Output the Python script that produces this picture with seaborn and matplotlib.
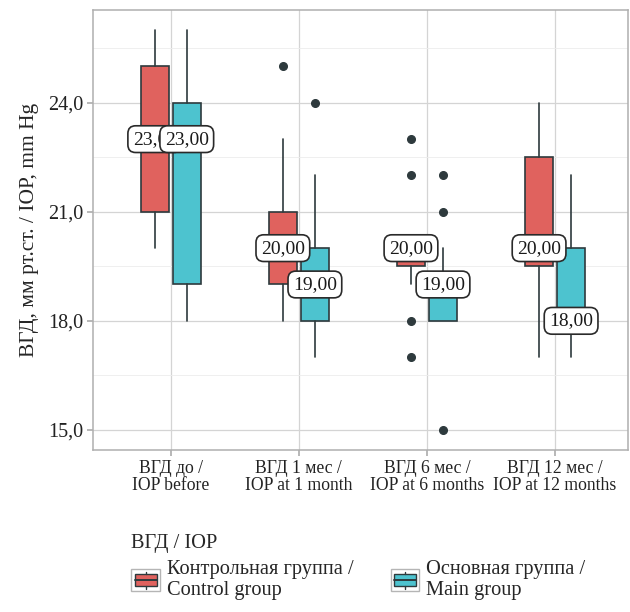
import matplotlib
matplotlib.use("Agg")
import matplotlib.pyplot as plt
from matplotlib.patches import Rectangle
from matplotlib.lines import Line2D
from matplotlib.legend_handler import HandlerBase
from matplotlib.ticker import FixedLocator
import seaborn as sns

# time points (x axis)
categories = ["ВГД до /\nIOP before", "ВГД 1 мес /\nIOP at 1 month",
              "ВГД 6 мес /\nIOP at 6 months", "ВГД 12 мес /\nIOP at 12 months"]
groups = ["Контрольная группа /\nControl group", "Основная группа /\nMain group"]

# box statistics: lower whisker, Q1, median, Q3, upper whisker
control_whislo = [20, 18, 19, 17]
control_q1 = [21, 19, 19.5, 19.5]
control_med = [23, 20, 20, 20]
control_q3 = [25, 21, 20, 22.5]
control_whishi = [26, 23, 20, 24]
control_fliers = [[], [25], [23, 22, 18, 17], []]

main_whislo = [18, 17, 18, 17]
main_q1 = [19, 18, 18, 18]
main_med = [23, 19, 19, 18]
main_q3 = [24, 20, 19, 20]
main_whishi = [26, 22, 20, 22]
main_fliers = [[], [24], [22, 21, 15], []]

y_ticks = [15, 18, 21, 24]

colors = ["#E0625E", "#4DC3CF"]
dark = "#2E3A3D"

sns.set_theme(style="whitegrid")
plt.rcParams["font.family"] = ["Liberation Serif", "DejaVu Serif"]

fig = plt.figure(figsize=(6.3, 6.12), dpi=100)
ax = fig.add_axes([0.147, 0.265, 0.850, 0.719])


def make_stats(wl, q1, med, q3, wh, fl):
    return [dict(whislo=a, q1=b, med=c, q3=d, whishi=e, fliers=f)
            for a, b, c, d, e, f in zip(wl, q1, med, q3, wh, fl)]


series = [
    make_stats(control_whislo, control_q1, control_med, control_q3, control_whishi, control_fliers),
    make_stats(main_whislo, main_q1, main_med, main_q3, main_whishi, main_fliers),
]
offsets = [-0.125, 0.125]

for k, stats in enumerate(series):
    pos = [i + offsets[k] for i in range(len(categories))]
    ax.bxp(stats, positions=pos, widths=0.22, patch_artist=True, showcaps=False,
           boxprops=dict(facecolor=colors[k], edgecolor=dark, linewidth=1.2),
           whiskerprops=dict(color=dark, linewidth=1.2),
           medianprops=dict(color=dark, linewidth=1.6),
           flierprops=dict(marker="o", markerfacecolor=dark, markeredgecolor=dark,
                           markersize=5.5),
           manage_ticks=False, zorder=3)

# median labels
for k, stats in enumerate(series):
    for i, s in enumerate(stats):
        ax.text(i + offsets[k], s["med"], f"{s['med']:.2f}".replace(".", ","),
                ha="center", va="center", fontsize=14, color="#1a1a1a", zorder=6 + k,
                bbox=dict(boxstyle="round,pad=0.25,rounding_size=0.4", fc="white",
                          ec="#2a2a2a", lw=1.2))

ax.set_xlim(-0.61, 3.57)
ax.set_ylim(14.45, 26.56)
ax.set_xticks(range(len(categories)))
ax.set_xticklabels(categories, fontsize=12.7, linespacing=1.0)
ax.set_yticks(y_ticks)
ax.set_yticklabels([f"{v:.1f}".replace(".", ",") for v in y_ticks], fontsize=14.5)
ax.yaxis.set_minor_locator(FixedLocator([16.5, 19.5, 22.5, 25.5]))
ax.set_ylabel("ВГД, мм рт.ст. / IOP, mm Hg", fontsize=15.5, labelpad=6)
ax.set_xlabel("")

ax.grid(which="major", color="#D4D4D4", linewidth=0.9)
ax.grid(which="minor", axis="y", color="#EDEDED", linewidth=0.6)
ax.set_axisbelow(True)
for sp in ax.spines.values():
    sp.set_color("#AFAFAF")
    sp.set_linewidth(1.1)
ax.tick_params(axis="both", which="major", length=4, color="#AFAFAF", colors="#222222",
               left=True, bottom=True, pad=3)
ax.tick_params(axis="y", which="minor", length=0)


class BoxKey(HandlerBase):
    # ggplot-like boxplot legend key
    def __init__(self, fill):
        super().__init__()
        self.fill = fill

    def create_artists(self, legend, orig_handle, xdescent, ydescent, width, height,
                       fontsize, trans):
        x0, y0 = -xdescent, -ydescent
        outer = Rectangle((x0, y0), width, height, fc="white", ec="#B5B5B5", lw=1.0,
                          transform=trans)
        ix, iy = width * 0.12, height * 0.22
        inner = Rectangle((x0 + ix, y0 + iy), width - 2 * ix, height - 2 * iy,
                          fc=self.fill, ec=dark, lw=1.0, transform=trans)
        med = Line2D([x0 + ix, x0 + width - ix], [y0 + height / 2] * 2, color=dark,
                     lw=1.4, transform=trans)
        w1 = Line2D([x0 + width / 2] * 2, [y0 + 2, y0 + iy], color=dark, lw=1.0,
                    transform=trans)
        w2 = Line2D([x0 + width / 2] * 2, [y0 + height - iy, y0 + height - 2], color=dark,
                    lw=1.0, transform=trans)
        return [outer, inner, med, w1, w2]


handles = [Rectangle((0, 0), 1, 1, fc=c) for c in colors]
fig.legend(handles, groups, loc="upper left", bbox_to_anchor=(0.186, 0.15),
           ncol=2, frameon=False, fontsize=14.7, title="ВГД / IOP",
           title_fontsize=14.7, alignment="left", handlelength=1.4,
           handleheight=1.3, handletextpad=0.35, columnspacing=1.8,
           handler_map={handles[0]: BoxKey(colors[0]), handles[1]: BoxKey(colors[1])},
           borderpad=0.2, labelspacing=0.3)

fig.savefig("out.png", dpi=100)
